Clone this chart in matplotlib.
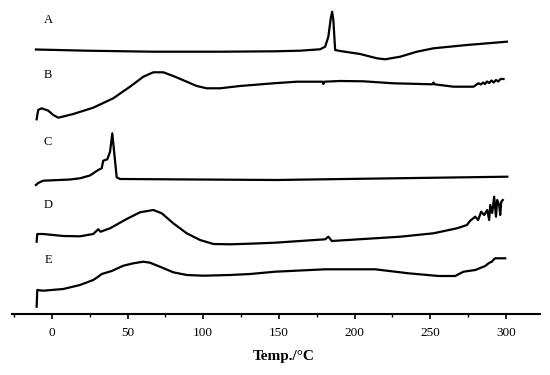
import numpy as np
import matplotlib.pyplot as plt
from matplotlib.ticker import MultipleLocator

# DSC traces: temperature (°C) and curve height (arbitrary units, stacked)
A_t = [-10.6, 23.1, 66.8, 112.4, 147.5, 164.0, 177.2, 180.6, 182.7, 184.3, 185.2, 186.0, 187.2,
       190.5, 203.7, 214.8, 220.2, 230.2, 241.2, 252.2, 274.3, 300.7]
A_y = [325.5, 324.3, 323.3, 323.3, 323.7, 324.3, 325.7, 328.3, 338.3, 356.7, 363.3, 355.0, 325.0,
       324.0, 321.0, 316.7, 315.7, 318.3, 323.3, 326.7, 330.0, 333.3]

B_t = [-10.1, -9.1, -6.8, -2.4, 0.9, 4.2, 14.1, 27.3, 40.5, 51.6, 60.4, 67.0, 73.6, 80.2, 89.1,
       95.7, 102.3, 111.1, 124.3, 146.4, 161.8, 178.8, 179.4, 180.0, 190.5, 205.9, 225.7, 251.5,
       252.2, 252.9, 265.4, 278.6, 281.9, 283.5, 285.0, 286.3, 287.5, 289.0, 290.5, 292.0, 293.5,
       295.0, 296.5, 298.5]
B_y = [255.7, 265.0, 266.7, 264.3, 260.0, 257.3, 261.0, 267.3, 276.7, 288.3, 298.3, 302.7, 302.7,
       299.0, 293.3, 289.0, 286.7, 286.7, 289.0, 291.7, 293.3, 293.3, 291.0, 293.3, 294.0, 293.7,
       291.7, 290.7, 292.5, 290.7, 288.3, 288.3, 291.7, 290.5, 292.5, 291.0, 293.5, 292.0, 294.5,
       292.5, 295.0, 293.5, 296.0, 296.0]

C_t = [-10.6, -9.1, -5.8, 12.0, 18.5, 25.1, 30.6, 32.9, 33.9, 36.6, 38.4, 39.9, 41.2, 42.8, 45.0,
       147.5, 301.0]
C_y = [190.0, 192.0, 194.3, 195.5, 196.7, 199.5, 205.0, 206.7, 214.3, 215.7, 223.3, 241.7, 221.7,
       197.7, 196.0, 195.0, 198.3]

D_t = [-10.1, -9.7, -5.8, 7.5, 18.5, 27.3, 30.6, 32.2, 38.4, 49.4, 58.2, 67.0, 72.6, 80.2, 89.1,
       97.9, 106.7, 117.7, 131.0, 147.5, 180.6, 182.7, 185.0, 230.2, 252.2, 267.7, 274.3, 276.5,
       279.8, 281.7, 283.7, 285.7, 287.7, 289.0, 289.7, 291.0, 292.3, 293.5, 294.3, 295.6, 296.3,
       297.0, 298.0]
D_y = [133.3, 141.0, 141.0, 139.0, 138.7, 141.0, 145.7, 143.3, 146.7, 156.0, 162.7, 165.0, 161.7,
       151.7, 141.7, 135.0, 131.0, 130.7, 131.3, 132.3, 135.7, 138.3, 134.0, 138.3, 141.7, 146.7,
       150.0, 154.3, 158.3, 155.0, 163.3, 160.0, 165.0, 155.0, 170.0, 162.0, 178.3, 158.3, 175.0,
       170.0, 160.0, 173.3, 175.0]

E_t = [-10.1, -9.7, -5.8, 7.5, 18.5, 27.3, 30.6, 32.9, 39.5, 47.2, 53.8, 60.4, 64.8, 71.4, 80.2,
       89.1, 100.1, 117.7, 131.0, 147.5, 180.6, 213.6, 235.7, 255.5, 266.5, 272.0, 279.8, 286.4,
       288.0, 289.5, 290.8, 292.0, 293.0, 299.6]
E_y = [68.3, 85.0, 84.3, 86.0, 90.0, 95.0, 98.3, 101.0, 104.0, 109.3, 111.7, 113.3, 112.3, 108.3,
       102.7, 100.0, 99.3, 100.0, 101.0, 103.3, 105.7, 105.7, 101.7, 99.0, 99.0, 103.3, 105.0,
       109.0, 111.0, 112.5, 113.3, 115.5, 116.7, 116.7]

names = ['A', 'B', 'C', 'D', 'E']
label_y = [355, 300, 233, 170, 115]

fig = plt.figure(figsize=(5.5, 3.75), dpi=100)
ax = fig.add_axes([12 / 550, 61 / 375, 528 / 550, 314 / 375])

for t, y in [(A_t, A_y), (B_t, B_y), (C_t, C_y), (D_t, D_y), (E_t, E_y)]:
    ax.plot(t, y, color='black', lw=1.6, solid_joinstyle='round')

for name, ly in zip(names, label_y):
    ax.text(-2.5, ly, name, fontsize=9, family='Liberation Serif', ha='center', va='center')

ax.set_xlim(-26.4, 322.6)
ax.set_ylim(61, 375)
ax.xaxis.set_major_locator(MultipleLocator(50))
ax.xaxis.set_minor_locator(MultipleLocator(25))
ax.tick_params(axis='x', which='major', direction='out', length=3.5, width=1.2,
               labelsize=9.5, pad=6)
ax.tick_params(axis='x', which='minor', direction='out', length=2, width=1)
for lab in ax.get_xticklabels():
    lab.set_family('Liberation Serif')
ax.set_yticks([])
for s in ['left', 'right', 'top']:
    ax.spines[s].set_visible(False)
ax.spines['bottom'].set_linewidth(1.5)

ax.set_xlabel('Temp./°C', fontsize=11, fontweight='bold', family='Liberation Serif')
ax.xaxis.set_label_coords((284 - 12) / 528, -0.115)

fig.savefig('out.png', dpi=100)
